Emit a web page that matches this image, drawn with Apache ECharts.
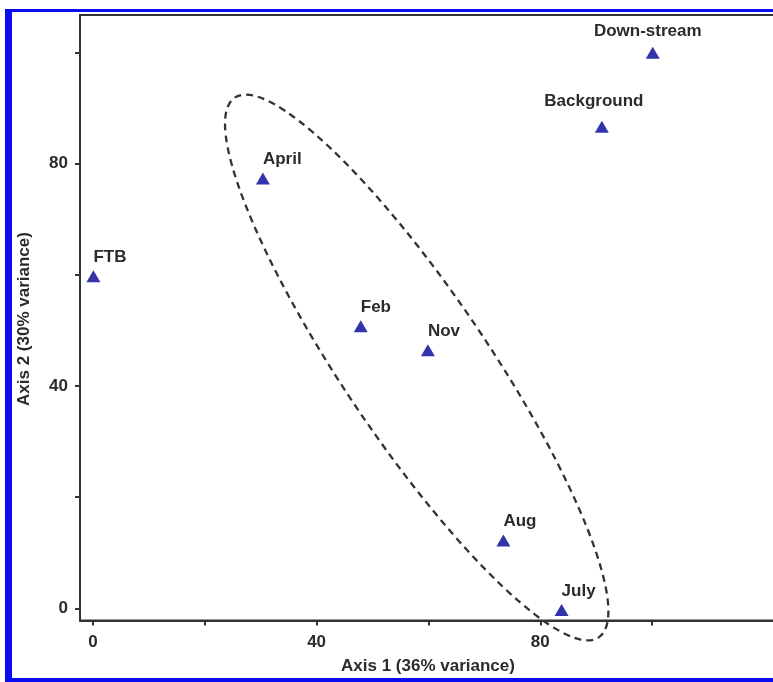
<!DOCTYPE html>
<html>
<head>
<meta charset="utf-8">
<script src="https://cdn.jsdelivr.net/npm/echarts@6/dist/echarts.min.js"></script>
<style>
html,body{margin:0;padding:0;background:#fff;}
#chart{width:773px;height:682px;}
</style>
</head>
<body>
<div id="chart"></div>
<script>
// ---- data ----
var siteNames = ['FTB', 'April', 'Feb', 'Nov', 'Aug', 'July', 'Background', 'Down-stream'];
var axis1Values = [0.1, 30.4, 47.9, 59.9, 73.4, 83.8, 91.0, 100.1];
var axis2Values = [59.7, 77.3, 50.7, 46.4, 12.2, -0.3, 86.6, 99.9];
var xTickValues = [0, 20, 40, 60, 80, 100];
var xLabelValues = [0, 40, 80];
var yTickValues = [0, 20, 40, 60, 80, 100];
var yLabelValues = [0, 40, 80];
// grouping ellipse: centre x, centre y, semi-major, semi-minor (axis units), tilt in degrees
var ellipseParams = [57.9, 43.3, 58.2, 13, -56];
var xTitle = 'Axis 1 (36% variance)';
var yTitle = 'Axis 2 (30% variance)';

// ---- label placement (style) ----
var labelPlacement = {
  'Background': {position: [-1, -19], align: 'center'},
  'Down-stream': {position: [2, -15], align: 'center'}
};

var points = siteNames.map(function (n, i) {
  var item = {name: n, value: [axis1Values[i], axis2Values[i]]};
  var p = labelPlacement[n];
  if (p) item.label = {position: p.position, align: p.align};
  return item;
});

var textColor = '#2b2b2b';
var fontFam = '"Liberation Sans", Arial, sans-serif';

var chart = echarts.init(document.getElementById('chart'), null, {renderer: 'canvas'});
chart.setOption({
  animation: false,
  backgroundColor: '#fff',
  grid: {
    left: 80, top: 15, bottom: 61.5, width: 712,
    outerBoundsMode: 'none',
    containLabel: false,
    show: true, borderColor: '#333', borderWidth: 2, backgroundColor: 'transparent'
  },
  xAxis: {
    type: 'value', min: -2.3, max: 125,
    splitLine: {show: false},
    axisLine: {onZero: false, lineStyle: {color: '#333', width: 2}},
    axisTick: {show: true, inside: false, length: 5, customValues: xTickValues, lineStyle: {color: '#333', width: 2}},
    axisLabel: {customValues: xLabelValues, margin: 13, color: textColor, fontSize: 17, fontWeight: 'bold', fontFamily: fontFam}
  },
  yAxis: {
    type: 'value', min: -2.2, max: 106.7,
    splitLine: {show: false},
    axisLine: {onZero: false, lineStyle: {color: '#333', width: 2}},
    axisTick: {show: true, inside: false, length: 5, customValues: yTickValues, lineStyle: {color: '#333', width: 2}},
    axisLabel: {customValues: yLabelValues, margin: 12, color: textColor, fontSize: 17, fontWeight: 'bold', fontFamily: fontFam}
  },
  series: [
    {
      type: 'custom',
      silent: true,
      clip: false,
      data: [ellipseParams],
      renderItem: function (params, api) {
        var c = api.coord([api.value(0), api.value(1)]);
        var rx = api.size([api.value(2), 0])[0];
        var ry = api.size([0, api.value(3)])[1];
        return {
          type: 'ellipse',
          x: c[0], y: c[1],
          rotation: api.value(4) * Math.PI / 180,
          shape: {cx: 0, cy: 0, rx: rx, ry: ry},
          style: {fill: 'none', stroke: '#333', lineWidth: 2.3, lineDash: [7, 5]}
        };
      },
      z: 1
    },
    {
      type: 'scatter',
      symbol: 'triangle',
      symbolSize: [14, 12],
      itemStyle: {color: '#3333aa', opacity: 1},
      data: points,
      label: {
        show: true,
        formatter: '{b}',
        position: [7, -13],
        align: 'left',
        verticalAlign: 'middle',
        color: textColor,
        opacity: 1,
        fontSize: 17,
        fontWeight: 'bold',
        fontFamily: fontFam
      },
      z: 3
    }
  ],
  graphic: [
    {type: 'rect', shape: {x: 5, y: 9, width: 7, height: 673}, style: {fill: '#0c0cf2'}},
    {type: 'rect', shape: {x: 5, y: 9, width: 768, height: 3}, style: {fill: '#0c0cf2'}},
    {type: 'rect', shape: {x: 5, y: 678, width: 768, height: 4}, style: {fill: '#0c0cf2'}},
    {type: 'text', x: 428, y: 666, style: {text: xTitle, fill: textColor, font: 'bold 17px ' + fontFam, textAlign: 'center', textVerticalAlign: 'middle'}},
    {type: 'text', x: 24, y: 319, rotation: Math.PI / 2, style: {text: yTitle, fill: textColor, font: 'bold 17px ' + fontFam, textAlign: 'center', textVerticalAlign: 'middle'}}
  ]
});
</script>
</body>
</html>
